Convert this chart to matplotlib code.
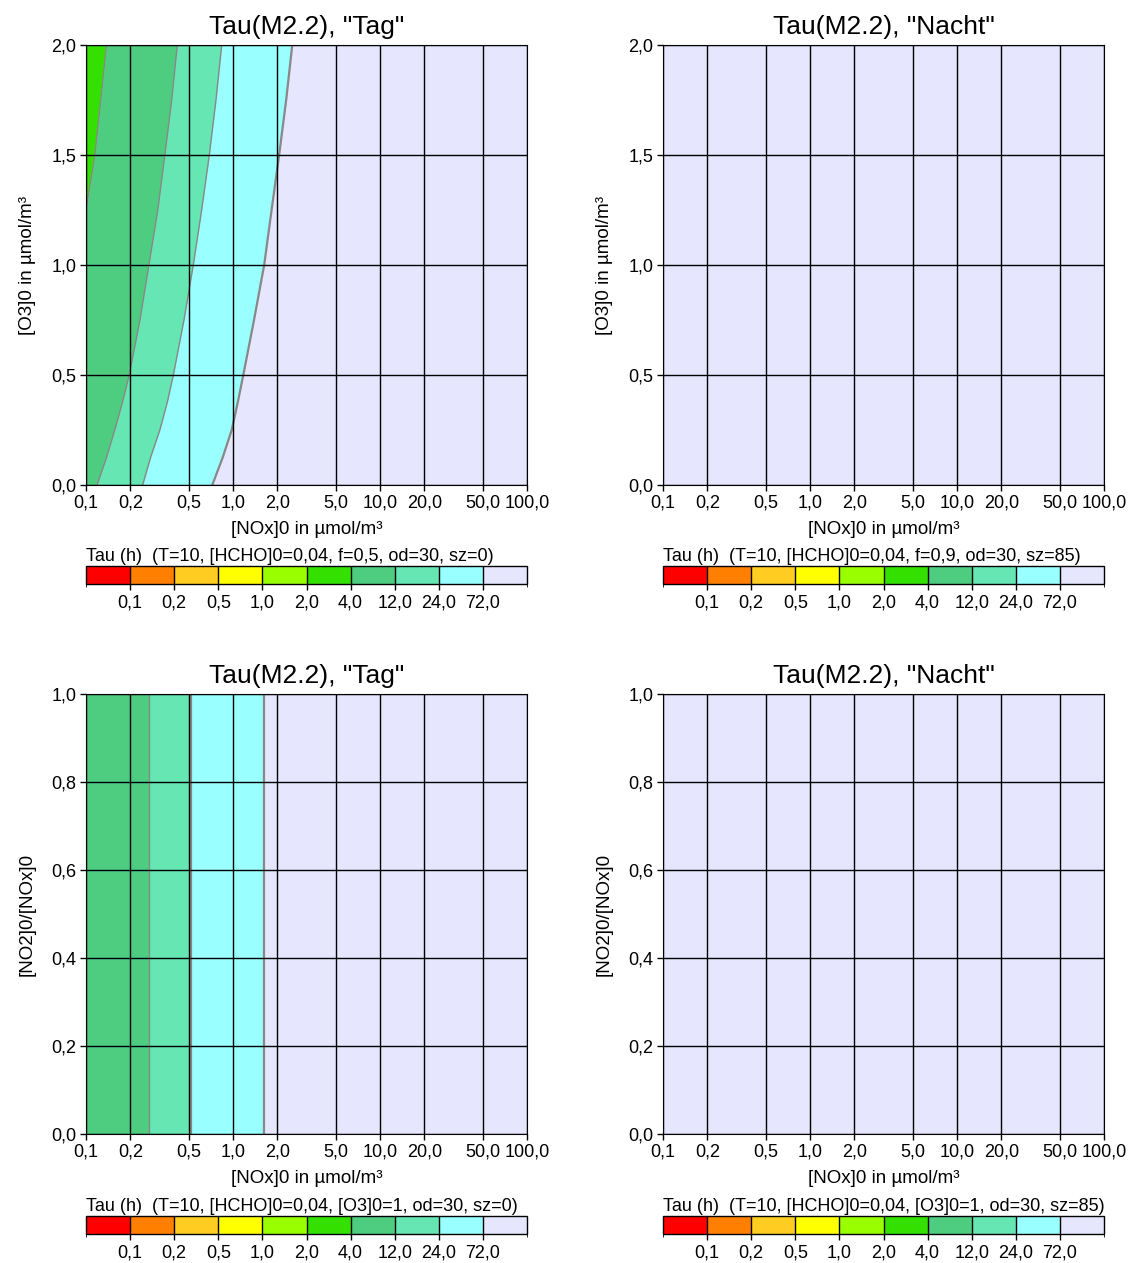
import numpy as np
import matplotlib
matplotlib.use("Agg")
import matplotlib.pyplot as plt
from matplotlib.colors import ListedColormap, BoundaryNorm
from matplotlib.cm import ScalarMappable

plt.rcParams['font.family'] = ['Liberation Sans', 'DejaVu Sans']

# colour classes of Tau (h)
tau_levels = ["0,1", "0,2", "0,5", "1,0", "2,0", "4,0", "12,0", "24,0", "72,0"]
tau_colors = ["#ff0000", "#ff8000", "#ffcc22", "#ffff00", "#99ff00",
              "#33e000", "#4ecc80", "#66e6b3", "#99ffff", "#e6e6ff"]

x_ticks = [0.1, 0.2, 0.5, 1, 2, 5, 10, 20, 50, 100]
x_ticklabels = ["0,1", "0,2", "0,5", "1,0", "2,0", "5,0", "10,0", "20,0", "50,0", "100,0"]

# top-left panel: contour boundaries ([NOx]0 at given [O3]0)
o3 = [0.0, 0.125, 0.25, 0.375, 0.5, 0.75, 1.0, 1.25, 1.5, 1.75, 2.0]
b_4h = [0.1, 0.1, 0.1, 0.1, 0.1, 0.1, 0.1, 0.1, 0.115, 0.126, 0.138]
b_12h = [0.119, 0.138, 0.157, 0.177, 0.197, 0.233, 0.268, 0.308, 0.344, 0.383, 0.418]
b_24h = [0.243, 0.275, 0.318, 0.357, 0.393, 0.464, 0.537, 0.612, 0.690, 0.766, 0.838]
b_72h = [0.723, 0.851, 0.98, 1.077, 1.175, 1.39, 1.63, 1.83, 2.06, 2.30, 2.53]

# bottom-left panel: boundaries independent of [NO2]0/[NOx]0
v_12h = 0.270
v_24h = 0.517
v_72h = 1.62

titles = ['Tau(M2.2), "Tag"', 'Tau(M2.2), "Nacht"', 'Tau(M2.2), "Tag"', 'Tau(M2.2), "Nacht"']
cb_labels = ["Tau (h)  (T=10, [HCHO]0=0,04, f=0,5, od=30, sz=0)",
             "Tau (h)  (T=10, [HCHO]0=0,04, f=0,9, od=30, sz=85)",
             "Tau (h)  (T=10, [HCHO]0=0,04, [O3]0=1, od=30, sz=0)",
             "Tau (h)  (T=10, [HCHO]0=0,04, [O3]0=1, od=30, sz=85)"]

W, H = 1132, 1263
fig = plt.figure(figsize=(W / 100, H / 100), dpi=100)

lefts = [86, 663]
tops = [45, 694]
cb_tops = [566, 1216]


def px_axes(x0, y0, w, h):
    return fig.add_axes([x0 / W, 1 - (y0 + h) / H, w / W, h / H])


axes = []
for r in range(2):
    for c in range(2):
        axes.append(px_axes(lefts[c], tops[r], 441, 440))

for i, ax in enumerate(axes):
    ax.set_xscale('log')
    ax.set_xlim(0.1, 100)
    ax.set_facecolor(tau_colors[9])
    ax.set_xticks(x_ticks)
    ax.set_xticklabels(x_ticklabels, fontsize=13)
    ax.minorticks_off()
    if i < 2:
        ax.set_ylim(0, 2)
        ax.set_yticks([0, 0.5, 1.0, 1.5, 2.0])
        ax.set_yticklabels(["0,0", "0,5", "1,0", "1,5", "2,0"], fontsize=13)
        ax.set_ylabel("[O3]0 in µmol/m³", fontsize=13.5, labelpad=11)
    else:
        ax.set_ylim(0, 1)
        ax.set_yticks([0, 0.2, 0.4, 0.6, 0.8, 1.0])
        ax.set_yticklabels(["0,0", "0,2", "0,4", "0,6", "0,8", "1,0"], fontsize=13)
        ax.set_ylabel("[NO2]0/[NOx]0", fontsize=13.5, labelpad=11)
    ax.set_xlabel("[NOx]0 in µmol/m³", fontsize=13.5, labelpad=7)
    ax.set_title(titles[i], fontsize=19, pad=8)
    ax.grid(True, color='black', lw=1, zorder=5)
    ax.set_axisbelow(False)
    ax.tick_params(direction='out', length=4.5, width=1, pad=2.5)
    for s in ax.spines.values():
        s.set_zorder(6)

# top-left filled regions
ax = axes[0]
ax.fill_betweenx(o3, 0.1, b_4h, color=tau_colors[5], lw=0, zorder=1)
ax.fill_betweenx(o3, b_4h, b_12h, color=tau_colors[6], lw=0, zorder=1)
ax.fill_betweenx(o3, b_12h, b_24h, color=tau_colors[7], lw=0, zorder=1)
ax.fill_betweenx(o3, b_24h, b_72h, color=tau_colors[8], lw=0, zorder=1)
b4_line = [(x, y) for x, y in zip(b_4h, o3) if x > 0.1 or y == 1.25]
ax.plot([p[0] for p in b4_line], [p[1] for p in b4_line], color='#888888', lw=1, zorder=2)
ax.plot(b_12h, o3, color='#888888', lw=1, zorder=2)
ax.plot(b_24h, o3, color='#888888', lw=1, zorder=2)
ax.plot(b_72h, o3, color='#888888', lw=1.6, zorder=2)

# bottom-left filled regions
ax = axes[2]
ax.axvspan(0.1, v_12h, color=tau_colors[6], lw=0, zorder=1)
ax.axvspan(v_12h, v_24h, color=tau_colors[7], lw=0, zorder=1)
ax.axvspan(v_24h, v_72h, color=tau_colors[8], lw=0, zorder=1)
for v, lw in [(v_12h, 1), (v_24h, 1.6), (v_72h, 1.6)]:
    ax.axvline(v, color='#888888', lw=lw, zorder=2)

# colour bars
cmap = ListedColormap(tau_colors)
norm = BoundaryNorm(np.arange(11), cmap.N)
for i in range(4):
    r, c = divmod(i, 2)
    cax = px_axes(lefts[c], cb_tops[r], 441, 18)
    cb = fig.colorbar(ScalarMappable(norm=norm, cmap=cmap), cax=cax,
                      orientation='horizontal', ticks=np.arange(1, 10), drawedges=True)
    cb.set_ticklabels(tau_levels)
    cb.dividers.set_color('black')
    cb.dividers.set_linewidth(1)
    cb.outline.set_linewidth(1)
    cax.tick_params(labelsize=13, length=4.5, width=1, pad=3)
    cax.text(0, 1.05, cb_labels[i], transform=cax.transAxes, ha='left', va='bottom',
             fontsize=13)

fig.savefig("out.png", dpi=100)
